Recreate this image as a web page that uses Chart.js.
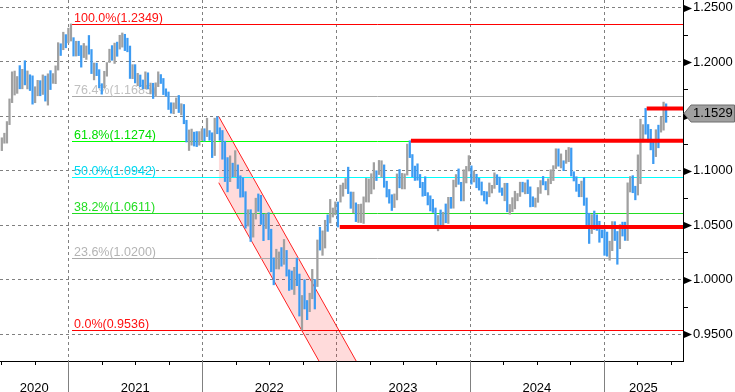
<!DOCTYPE html>
<html lang="en">
<head>
<meta charset="UTF-8">
<title>EURUSD weekly</title>
<style>
  html, body { margin: 0; padding: 0; background: #fff; }
  #chart { display: block; }
</style>
</head>
<body>
<canvas id="chart" width="735" height="392"></canvas>
<script src="https://cdn.jsdelivr.net/npm/chart.js@4.4.1/dist/chart.umd.min.js"></script>
<script>
// weekly bars, dated by the friday close; open = previous close
const firstWeek = '2020-07-03';
const firstOpen = 1.1220;

const highs = [
  // 2020
  1.1303,1.1345,1.1452,1.1660,1.1909,1.1916,1.1866,1.1966,1.1932,1.2011,1.1917,1.1882,1.1872,1.1772,1.1831,1.1828,1.1881,1.1870,1.1891,1.1920,1.1893,1.1964,1.2177,1.2167,1.2273,1.2251,1.2310,
  // 2021
  1.2349,1.2223,1.2190,1.2190,1.2150,1.2170,1.2147,1.2243,1.2114,1.1990,1.1989,1.1929,1.1800,1.1914,1.1994,1.2117,1.2150,1.2173,1.2182,1.2245,1.2266,1.2254,1.2218,1.2146,1.1975,1.1975,
  1.1895,1.1880,1.1834,1.1909,1.1900,1.1806,1.1804,1.1808,1.1909,1.1884,1.1848,1.1753,1.1724,1.1625,1.1624,1.1669,1.1692,1.1616,1.1609,1.1464,1.1375,1.1383,1.1355,1.1360,1.1360,1.1386,
  // 2022
  1.1386,1.1483,1.1369,1.1349,1.1483,1.1495,1.1395,1.1370,1.1272,1.1121,1.1137,1.1070,1.1185,1.1054,1.0954,1.0936,1.0808,1.0642,1.0642,1.0607,1.0748,1.0787,1.0774,1.0601,1.0606,1.0615,
  1.0463,1.0200,1.0279,1.0254,1.0294,1.0369,1.0268,1.0090,1.0079,1.0113,1.0198,1.0051,0.9854,0.9999,0.9808,0.9875,1.0094,1.0001,1.0364,1.0481,1.0448,1.0545,1.0595,1.0737,1.0658,1.0714,
  // 2023
  1.0713,1.0868,1.0887,1.0929,1.1033,1.0805,1.0804,1.0705,1.0691,1.0694,1.0760,1.0930,1.0925,1.0973,1.1075,1.1000,1.1095,1.1092,1.1054,1.0904,1.0828,1.0780,1.0787,1.0971,1.1012,1.0976,
  1.0972,1.1245,1.1276,1.1149,1.1043,1.1064,1.0966,1.0894,1.0945,1.0799,1.0770,1.0737,1.0658,1.0589,1.0640,1.0619,1.0695,1.0756,1.0756,1.0914,1.0965,1.1017,1.0894,1.1009,1.1040,1.1139,
  // 2024
  1.1045,1.0998,1.0968,1.0932,1.0897,1.0811,1.0807,1.0888,1.0866,1.0981,1.0964,1.0942,1.0842,1.0885,1.0885,1.0690,1.0753,1.0812,1.0791,1.0895,1.0895,1.0889,1.0916,1.0852,1.0761,1.0749,
  1.0846,1.0910,1.0948,1.0901,1.0926,1.1009,1.1047,1.1202,1.1201,1.1155,1.1092,1.1189,1.1214,1.1209,1.0991,1.0945,1.0876,1.0905,1.0937,1.0750,1.0610,1.0597,1.0630,1.0595,1.0536,1.0457,1.0458,
  // 2025
  1.0437,1.0353,1.0533,1.0532,1.0442,1.0505,1.0528,1.0528,1.0889,1.0947,1.0955,1.0858,1.1146,1.1474,1.1424,1.1573,1.1425,1.1381,1.1266,1.1377,1.1419,1.1495,1.1631,1.1615
];

const lows = [
  // 2020
  1.1185,1.1253,1.1254,1.1424,1.1626,1.1696,1.1711,1.1753,1.1753,1.1789,1.1752,1.1737,1.1612,1.1625,1.1689,1.1689,1.1701,1.1640,1.1603,1.1746,1.1803,1.1800,1.1925,1.2059,1.2112,1.2130,1.2175,
  // 2021
  1.2192,1.2054,1.2054,1.2058,1.1952,1.2040,1.2023,1.2071,1.1893,1.1835,1.1874,1.1762,1.1704,1.1761,1.1869,1.1995,1.2015,1.1986,1.2052,1.2118,1.2136,1.2104,1.2093,1.1848,1.1846,1.1807,
  1.1781,1.1772,1.1752,1.1753,1.1752,1.1706,1.1664,1.1690,1.1773,1.1802,1.1700,1.1684,1.1563,1.1529,1.1524,1.1571,1.1535,1.1513,1.1432,1.1264,1.1186,1.1235,1.1227,1.1222,1.1235,1.1279,
  // 2022
  1.1272,1.1314,1.1280,1.1121,1.1140,1.1340,1.1280,1.1106,1.0901,1.0806,1.0900,1.0945,1.0945,1.0837,1.0757,1.0759,1.0472,1.0492,1.0350,1.0390,1.0556,1.0627,1.0507,1.0358,1.0469,1.0366,
  1.0072,0.9952,1.0098,1.0097,1.0123,1.0140,1.0032,0.9900,0.9910,0.9863,0.9944,0.9665,0.9536,0.9730,0.9632,0.9705,0.9824,0.9730,0.9936,1.0271,1.0223,1.0290,1.0443,1.0520,1.0575,1.0595,
  // 2023
  1.0483,1.0712,1.0766,1.0835,1.0790,1.0655,1.0613,1.0533,1.0525,1.0524,1.0516,1.0713,1.0712,1.0788,1.0831,1.0910,1.0965,1.0941,1.0848,1.0759,1.0702,1.0635,1.0662,1.0732,1.0843,1.0833,
  1.0833,1.0960,1.1121,1.0944,1.0911,1.0913,1.0845,1.0766,1.0771,1.0686,1.0631,1.0617,1.0488,1.0448,1.0496,1.0495,1.0522,1.0516,1.0655,1.0656,1.0852,1.0875,1.0723,1.0723,1.0888,1.0998,
  // 2024
  1.0877,1.0897,1.0844,1.0822,1.0777,1.0722,1.0695,1.0761,1.0796,1.0838,1.0872,1.0802,1.0773,1.0724,1.0623,1.0601,1.0624,1.0650,1.0724,1.0764,1.0805,1.0788,1.0790,1.0668,1.0671,1.0666,
  1.0710,1.0792,1.0870,1.0825,1.0778,1.0881,1.0910,1.1020,1.1042,1.1026,1.1001,1.1068,1.1083,1.0952,1.0906,1.0811,1.0761,1.0761,1.0682,1.0497,1.0332,1.0423,1.0460,1.0452,1.0343,1.0384,1.0223,
  // 2025
  1.0215,1.0178,1.0266,1.0359,1.0141,1.0284,1.0400,1.0360,1.0359,1.0805,1.0798,1.0733,1.0777,1.0881,1.1265,1.1336,1.1265,1.1192,1.1065,1.1130,1.1211,1.1355,1.1373,1.1445
];

const closes = [
  // 2020
  1.1248,1.1300,1.1428,1.1656,1.1778,1.1788,1.1842,1.1797,1.1904,1.1838,1.1845,1.1838,1.1630,1.1716,1.1826,1.1718,1.1860,1.1646,1.1876,1.1834,1.1857,1.1963,1.2120,1.2112,1.2255,1.2186,1.2216,
  // 2021
  1.2219,1.2081,1.2170,1.2136,1.2046,1.2118,1.2118,1.2075,1.1915,1.1953,1.1905,1.1795,1.1763,1.1899,1.1983,1.2097,1.2020,1.2165,1.2142,1.2180,1.2193,1.2166,1.2108,1.1864,1.1937,1.1865,
  1.1876,1.1807,1.1771,1.1870,1.1761,1.1795,1.1697,1.1795,1.1880,1.1813,1.1726,1.1719,1.1597,1.1574,1.1600,1.1645,1.1558,1.1567,1.1445,1.1289,1.1316,1.1317,1.1316,1.1240,1.1322,1.1370,
  // 2022
  1.1360,1.1412,1.1343,1.1146,1.1450,1.1349,1.1321,1.1268,1.0929,1.0910,1.1053,1.0985,1.1046,1.0875,1.0809,1.0786,1.0545,1.0550,1.0411,1.0565,1.0733,1.0719,1.0518,1.0497,1.0555,1.0430,
  1.0183,1.0084,1.0213,1.0220,1.0183,1.0258,1.0039,0.9965,0.9954,1.0039,1.0015,0.9690,0.9801,0.9741,0.9723,0.9861,0.9965,0.9958,1.0353,1.0325,1.0397,1.0537,1.0532,1.0585,1.0636,1.0705,
  // 2023
  1.0645,1.0831,1.0855,1.0868,1.0798,1.0680,1.0694,1.0547,1.0635,1.0640,1.0670,1.0762,1.0840,1.0903,1.0993,1.0990,1.1018,1.1020,1.0850,1.0805,1.0720,1.0708,1.0749,1.0940,1.0893,1.0913,
  1.0968,1.1228,1.1125,1.1016,1.1006,1.0946,1.0872,1.0796,1.0774,1.0700,1.0659,1.0650,1.0573,1.0589,1.0512,1.0594,1.0565,1.0729,1.0685,1.0914,1.0940,1.0883,1.0762,1.0895,1.1012,1.1039,
  // 2024
  1.0941,1.0951,1.0897,1.0852,1.0787,1.0783,1.0777,1.0820,1.0838,1.0937,1.0889,1.0808,1.0790,1.0837,1.0642,1.0656,1.0693,1.0760,1.0770,1.0868,1.0846,1.0848,1.0801,1.0702,1.0693,1.0713,
  1.0839,1.0907,1.0883,1.0857,1.0910,1.0916,1.1027,1.1192,1.1047,1.1083,1.1075,1.1162,1.1164,1.0975,1.0936,1.0866,1.0797,1.0833,1.0720,1.0542,1.0418,1.0577,1.0567,1.0500,1.0430,1.0427,1.0308,
  // 2025
  1.0244,1.0273,1.0494,1.0362,1.0329,1.0491,1.0459,1.0377,1.0833,1.0878,1.0816,1.0803,1.0962,1.1357,1.1396,1.1363,1.1298,1.1253,1.1163,1.1362,1.1347,1.1397,1.1552,1.1529
];

// visible window and price axis
const viewStart = '2020-06-28';
const viewEnd = '2025-08-05';
const priceMin = 0.9252;
const priceMax = 1.2569;
const priceTicks = [0.95, 1.00, 1.05, 1.10, 1.15, 1.20, 1.25];
const priceMinorTicks = [0.975, 1.025, 1.075, 1.125, 1.175, 1.225];

// fibonacci retracement (high jan 2021 -> low sep 2022)
const fibStart = '2021-01-12';
const fibPercents = ['100.0', '76.4', '61.8', '50.0', '38.2', '23.6', '0.0'];
const fibValues = [1.2349, 1.1685, 1.1274, 1.0942, 1.0611, 1.0200, 0.9536];

// falling channel 2022
const channelDates = ['2022-02-15', '2023-05-31'];
const channelUpper = [1.1498, 0.8681];
const channelLower = [1.0890, 0.8073];

// horizontal support / resistance lines
const levelDates = ['2023-01-11', '2023-07-24', '2025-04-28'];
const levelValues = [1.0483, 1.1276, 1.1573];

// styles
const UP = '#a0a0a0';
const DOWN = '#3d9bf2';
const FIB_LINE = ['#ff0000', '#a9a9a9', '#00ff00', '#00ffff', '#22dd22', '#a9a9a9', '#ff0000'];
const FIB_TEXT = ['#ff1010', '#c0c0c0', '#00e000', '#00d8f0', '#22dd22', '#b4b4b4', '#ff1010'];
const FONT = 'Liberation Sans';

function yearPos(d) {
  const t = typeof d === 'number' ? d : Date.parse(d + 'T00:00:00Z');
  const y = new Date(t).getUTCFullYear();
  const a = Date.UTC(y, 0, 1), b = Date.UTC(y + 1, 0, 1);
  return y + (t - a) / (b - a);
}

const WEEK = 7 * 24 * 3600 * 1000;
const t0 = Date.parse(firstWeek + 'T00:00:00Z');
const weekX = closes.map((c, i) => yearPos(t0 + i * WEEK));
const opens = closes.map((c, i) => i ? closes[i - 1] : firstOpen);
const barColors = closes.map((c, i) => c >= opens[i] ? UP : DOWN);
const xMin = yearPos(viewStart);
const xMax = yearPos(viewEnd);

const yearLabels = [];
for (let yr = Math.floor(xMin); yr < xMax; yr++) {
  yearLabels.push((Math.max(yr, xMin) + Math.min(yr + 1, xMax)) / 2);
}

const decor = {
  id: 'decor',
  beforeDatasetsDraw(chart) {
    const { ctx, chartArea: a, scales: { x } } = chart;
    ctx.save();
    ctx.strokeStyle = '#808080';
    ctx.lineWidth = 1;
    ctx.setLineDash([3, 3]);
    for (let yr = Math.ceil(xMin); yr < xMax; yr++) {
      const px = Math.round(x.getPixelForValue(yr)) + 0.5;
      ctx.beginPath();
      ctx.moveTo(px, a.top);
      ctx.lineTo(px, a.bottom);
      ctx.stroke();
    }
    ctx.restore();
  },
  afterDatasetDraw(chart, args) {
    // fibo lines go on top of the channel, below the bars
    if (args.index !== 4) return;
    const { ctx, chartArea: a, scales: { x, y } } = chart;
    const fx = Math.round(x.getPixelForValue(yearPos(fibStart)));
    ctx.save();
    ctx.lineWidth = 1;
    ctx.font = '12.5px "' + FONT + '"';
    ctx.textBaseline = 'alphabetic';
    fibValues.forEach((v, i) => {
      const py = Math.round(y.getPixelForValue(v)) + 0.5;
      ctx.strokeStyle = FIB_LINE[i];
      ctx.beginPath();
      ctx.moveTo(fx, py);
      ctx.lineTo(a.right, py);
      ctx.stroke();
      ctx.fillStyle = FIB_TEXT[i];
      ctx.fillText(fibPercents[i] + '%(' + v.toFixed(4) + ')', fx + 2, py - 3);
    });
    ctx.restore();
  },
  afterDraw(chart) {
    const { ctx, chartArea: a, scales: { x, y } } = chart;
    ctx.save();
    ctx.lineWidth = 1;
    ctx.strokeStyle = '#000';
    ctx.fillStyle = '#000';
    // price axis: minor ticks and arrow markers
    priceMinorTicks.forEach(v => {
      const py = Math.round(y.getPixelForValue(v)) + 0.5;
      ctx.beginPath();
      ctx.moveTo(a.right, py);
      ctx.lineTo(a.right + 5, py);
      ctx.stroke();
    });
    priceTicks.forEach(v => {
      const py = Math.round(y.getPixelForValue(v)) + 0.5;
      ctx.beginPath();
      ctx.moveTo(a.right + 1, py - 3.5);
      ctx.lineTo(a.right + 9, py);
      ctx.lineTo(a.right + 1, py + 3.5);
      ctx.closePath();
      ctx.fill();
    });
    // time axis: quarter ticks and year separators
    for (let yr = Math.floor(xMin); yr < xMax; yr++) {
      [0.25, 0.5, 0.75].forEach(q => {
        const v = yr + q;
        if (v < xMin || v > xMax) return;
        const px = Math.round(x.getPixelForValue(v)) + 0.5;
        ctx.beginPath();
        ctx.moveTo(px, a.bottom);
        ctx.lineTo(px, a.bottom + 4);
        ctx.stroke();
      });
      if (yr > xMin) {
        const px = Math.round(x.getPixelForValue(yr)) + 0.5;
        ctx.strokeStyle = '#808080';
        ctx.beginPath();
        ctx.moveTo(px, a.bottom);
        ctx.lineTo(px, chart.height);
        ctx.stroke();
        ctx.strokeStyle = '#000';
      }
    }
    // last price tag
    const last = closes[closes.length - 1];
    const py = Math.round(y.getPixelForValue(last)) + 0.5;
    const bx = a.right + 1;
    ctx.beginPath();
    ctx.moveTo(bx, py);
    ctx.lineTo(bx + 7, py - 8.5);
    ctx.lineTo(chart.width - 0.5, py - 8.5);
    ctx.lineTo(chart.width - 0.5, py + 8.5);
    ctx.lineTo(bx + 7, py + 8.5);
    ctx.closePath();
    ctx.fillStyle = '#a0a0a0';
    ctx.fill();
    ctx.strokeStyle = '#6e6e6e';
    ctx.stroke();
    ctx.fillStyle = '#000';
    ctx.font = '13px "' + FONT + '"';
    ctx.textBaseline = 'middle';
    ctx.fillText(last.toFixed(4), a.right + 10, py);
    ctx.restore();
  }
};

const levelSets = levelValues.map((v, i) => ({
  type: 'line',
  data: [{ x: yearPos(levelDates[i]), y: v }, { x: xMax, y: v }],
  borderColor: '#ff0000',
  borderWidth: 4,
  pointRadius: 0,
  fill: false,
  order: 0
}));

function noPadding(s) {
  s.paddingTop = 0;
  s.paddingBottom = 0;
  s.paddingLeft = 0;
  s.paddingRight = 0;
}

new Chart(document.getElementById('chart'), {
  type: 'bar',
  data: {
    datasets: [
      ...levelSets,
      {
        type: 'bar',
        data: weekX.map((wx, i) => ({ x: wx, y: [lows[i], highs[i]] })),
        backgroundColor: barColors,
        borderWidth: 0,
        barThickness: 1.6,
        order: 1
      },
      {
        type: 'line',
        data: channelDates.map((d, i) => ({ x: yearPos(d), y: channelUpper[i] })),
        borderColor: '#ff2020',
        borderWidth: 1,
        pointRadius: 0,
        fill: false,
        order: 2
      },
      {
        type: 'line',
        data: channelDates.map((d, i) => ({ x: yearPos(d), y: channelLower[i] })),
        borderColor: '#ff2020',
        borderWidth: 1,
        pointRadius: 0,
        fill: '-1',
        backgroundColor: 'rgba(255, 0, 0, 0.14)',
        order: 2
      }
    ]
  },
  plugins: [decor],
  options: {
    responsive: false,
    animation: false,
    devicePixelRatio: 1,
    layout: { padding: 0 },
    events: [],
    plugins: {
      legend: { display: false },
      tooltip: { enabled: false }
    },
    scales: {
      x: {
        type: 'linear',
        min: xMin,
        max: xMax,
        offset: false,
        grid: { display: false, offset: false },
        border: { display: true, color: '#000', width: 1 },
        afterBuildTicks: s => { s.ticks = yearLabels.map(v => ({ value: v })); },
        afterFit: s => { s.height = 31; noPadding(s); },
        ticks: {
          autoSkip: false,
          maxRotation: 0,
          padding: 12,
          color: '#000',
          font: { family: FONT, size: 13 },
          callback: v => String(Math.floor(v))
        }
      },
      y: {
        type: 'linear',
        position: 'right',
        min: priceMin,
        max: priceMax,
        grid: { color: '#808080', lineWidth: 1, drawTicks: false },
        border: { display: true, color: '#000', width: 1, dash: [3, 3] },
        afterBuildTicks: s => { s.ticks = priceTicks.map(v => ({ value: v })); },
        afterFit: s => { s.width = 52; noPadding(s); },
        ticks: {
          padding: 10,
          color: '#000',
          font: { family: FONT, size: 13 },
          callback: v => v.toFixed(4)
        }
      }
    }
  }
});
</script>
</body>
</html>
